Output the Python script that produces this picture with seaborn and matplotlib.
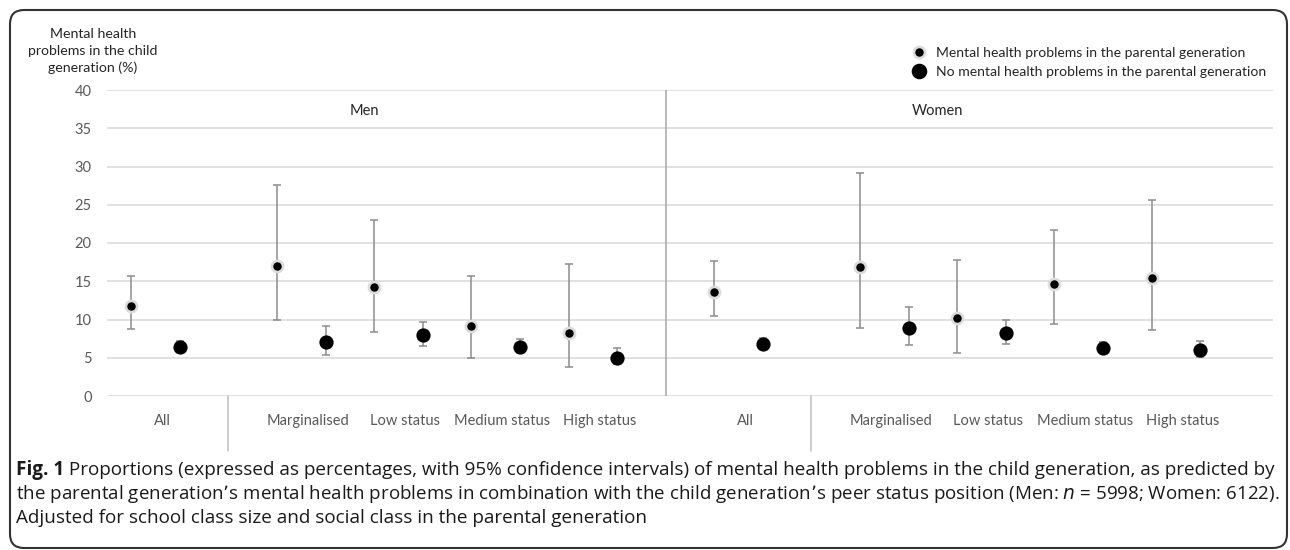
import numpy as np
import pandas as pd
import matplotlib
matplotlib.use("Agg")
import matplotlib.pyplot as plt
import seaborn as sns
from matplotlib.lines import Line2D
from matplotlib.patches import FancyBboxPatch
from matplotlib.transforms import IdentityTransform

# ---------------- data ----------------
groups = ["All", "Marginalised", "Low status", "Medium status", "High status"]

men_par_est = [11.8, 17.0, 14.3, 9.1, 8.3]
men_par_lo = [8.8, 9.9, 8.4, 5.0, 3.8]
men_par_hi = [15.7, 27.6, 23.0, 15.7, 17.3]
men_no_est = [6.4, 7.1, 8.0, 6.4, 5.0]
men_no_lo = [5.7, 5.3, 6.5, 5.6, 4.2]
men_no_hi = [7.2, 9.2, 9.7, 7.4, 6.3]

women_par_est = [13.6, 16.9, 10.2, 14.6, 15.4]
women_par_lo = [10.5, 8.9, 5.6, 9.4, 8.6]
women_par_hi = [17.7, 29.1, 17.8, 21.7, 25.6]
women_no_est = [6.8, 8.9, 8.3, 6.3, 6.0]
women_no_lo = [6.1, 6.7, 6.8, 5.6, 5.1]
women_no_hi = [7.6, 11.6, 10.0, 7.0, 7.2]

lab_par = "Mental health problems in the parental generation"
lab_no = "No mental health problems in the parental generation"

# ---------------- layout ----------------
slots = [0, 3, 5, 7, 9]     # first slot of each group (Excel category slots)
women_shift = 12

rows = []
for sex, shift, pe, pl, ph, ne, nl, nh in [
        ("Men", 0, men_par_est, men_par_lo, men_par_hi, men_no_est, men_no_lo, men_no_hi),
        ("Women", women_shift, women_par_est, women_par_lo, women_par_hi, women_no_est, women_no_lo, women_no_hi)]:
    for i, g in enumerate(groups):
        rows.append([sex, g, lab_par, slots[i] + shift, pe[i], pl[i], ph[i]])
        rows.append([sex, g, lab_no, slots[i] + shift + 1, ne[i], nl[i], nh[i]])
df = pd.DataFrame(rows, columns=["sex", "group", "parent", "x", "est", "lo", "hi"])

sns.set_style("white")
plt.rcParams["font.family"] = ["Lato", "DejaVu Sans"]

grey_txt = "#595959"
grid_c = "#d9d9d9"

fig = plt.figure(figsize=(12.9, 5.5), dpi=100)
ax = fig.add_axes([107 / 1290, 1 - 396 / 550, 1166 / 1290, 306 / 550])

ax.set_xlim(-0.5, 23.5)
ax.set_ylim(0, 40)
ax.set_yticks(np.arange(0, 41, 5))
ax.yaxis.grid(True, color=grid_c, lw=1.1)
ax.set_axisbelow(True)
for s in ax.spines.values():
    s.set_visible(False)

# error bars
ax.errorbar(df["x"], df["est"], yerr=[df["est"] - df["lo"], df["hi"] - df["est"]],
            fmt="none", ecolor="#8c8c8c", elinewidth=1.1, capsize=2.6, capthick=1.1, zorder=2)

# points
par = df[df["parent"] == lab_par]
nop = df[df["parent"] == lab_no]
sns.scatterplot(data=nop, x="x", y="est", color="black", s=105, linewidth=0, ax=ax, zorder=4, legend=False)
sns.scatterplot(data=par, x="x", y="est", color="black", s=64, edgecolor="#dcdcdc", linewidth=1.9,
                ax=ax, zorder=4, legend=False)

# category labels
xt = list(par["x"] + 0.64)
xl = list(par["group"])
ax.set_xticks(xt)
ax.set_xticklabels(xl)
ax.tick_params(axis="x", length=0, pad=13, labelsize=10.5, labelcolor=grey_txt)
ax.tick_params(axis="y", length=0, pad=11, labelsize=10.5, labelcolor=grey_txt)
ax.set_xlabel("")
ax.set_ylabel("")

# men / women divider and group separators under the axis
ax.plot([11, 11], [0, 40], color="#a6a6a6", lw=1.1, zorder=1)
for xs in [2, 2 + women_shift]:
    ax.plot([xs, xs], [0, -7.2], color="#bfbfbf", lw=1.1, clip_on=False)

ax.text(4.8, 37.25, "Men", ha="center", va="center", fontsize=10.5, color="#262626")
ax.text(16.6, 37.25, "Women", ha="center", va="center", fontsize=10.5, color="#262626")

# y label at top-left
fig.text(93 / 1290, 1 - 51 / 550, "Mental health\nproblems in the child\ngeneration (%)",
         ha="center", va="center", fontsize=10.2, color="#262626", linespacing=1.5)

# legend
h_par = Line2D([], [], ls="none", marker="o", color="black", markersize=8,
               markeredgecolor="#dcdcdc", markeredgewidth=1.9)
h_no = Line2D([], [], ls="none", marker="o", color="black", markersize=10.2)
fig.legend([h_par, h_no], [lab_par, lab_no], loc="upper left",
           bbox_to_anchor=(898 / 1290, 1 - 34 / 550), frameon=False, fontsize=10.1,
           handletextpad=0.6, labelspacing=0.55, handlelength=1.2, labelcolor="#262626")

# caption
cap_font = ["Open Sans", "DejaVu Sans"]
cap_size = 13.6
t1 = fig.text(16 / 1290, 1 - 470 / 550, "Fig. 1", fontsize=cap_size, fontweight="bold",
              family=cap_font, va="center", color="#1a1a1a")
ax.annotate(" Proportions (expressed as percentages, with 95% confidence intervals) of mental health "
            "problems in the child generation, as predicted by",
            xy=(1, 0.5), xycoords=t1, va="center", ha="left", fontsize=cap_size, family=cap_font,
            color="#1a1a1a", annotation_clip=False)
fig.text(16 / 1290, 1 - 494 / 550,
         "the parental generation\u2019s mental health problems in combination with the child "
         "generation\u2019s peer status position (Men: $\\it{n}$ = 5998; Women: 6122).",
         fontsize=cap_size - 0.1, family=cap_font, va="center", color="#1a1a1a")
fig.text(16 / 1290, 1 - 518 / 550,
         "Adjusted for school class size and social class in the parental generation",
         fontsize=cap_size, family=cap_font, va="center", color="#1a1a1a")

# rounded outer frame
frame = FancyBboxPatch((10, 2), 1277, 538, boxstyle="round,pad=0,rounding_size=14",
                       transform=IdentityTransform(), fill=False, edgecolor="#333333", lw=1.5)
fig.patches.append(frame)

fig.savefig("out.png", dpi=100)
